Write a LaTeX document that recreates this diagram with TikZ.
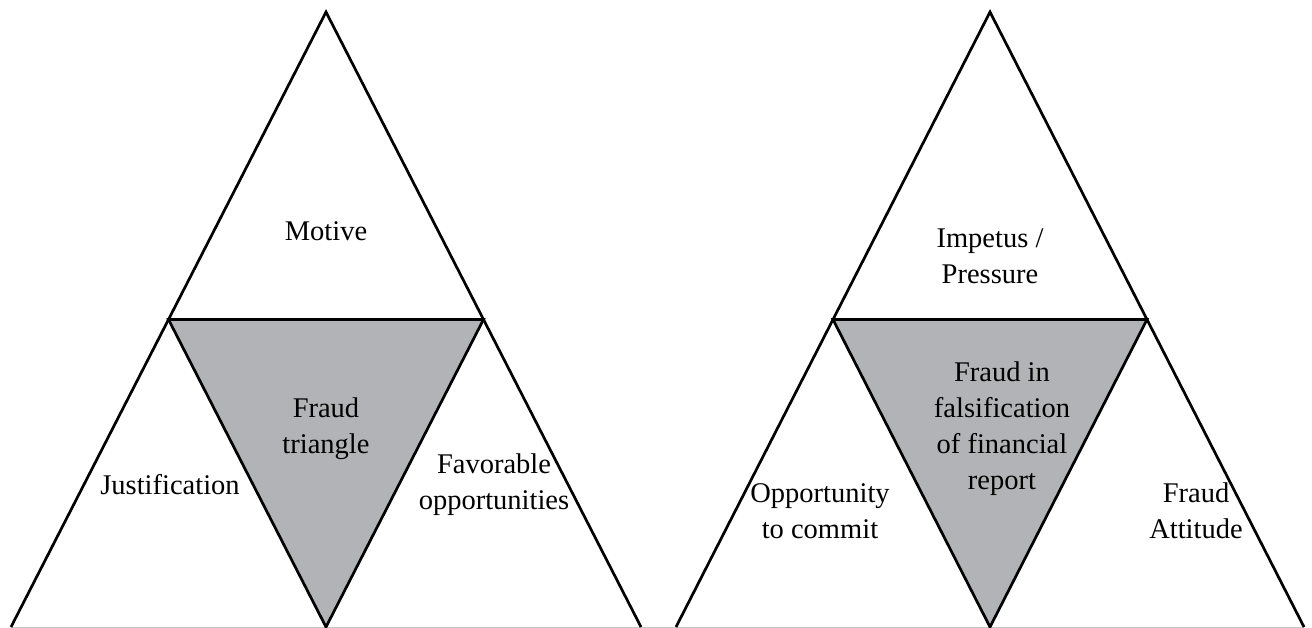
\documentclass[tikz,border=0pt]{standalone}
\usepackage{fontspec}
\setmainfont{Liberation Serif}
\usetikzlibrary{calc}
\definecolor{fraudgray}{HTML}{B1B3B6}
\tikzset{x=1pt, y=-1pt, % pixel units, origin top left
  every node/.style={align=center,
    font=\fontsize{28.5}{36}\selectfont},
  side/.style={      % outer edges of each triangle
    draw, line width=2.7pt, line join=miter},
  baseline/.style={  % thin grey floor line
    draw=gray!45, line width=1pt},
  core/.style={      % the shaded middle triangle
    fill=fraudgray, draw, line width=2.7pt, line join=miter}}

\begin{document}
\begin{tikzpicture}
  \useasboundingbox (0,0) rectangle (1312,628);

  % left triangle
  \coordinate (ltop) at (326,12);
  \coordinate (lleft) at (11,627);
  \coordinate (lright) at (641,627);
  \coordinate (lmidl) at ($(ltop)!0.5!(lleft)$);
  \coordinate (lmidr) at ($(ltop)!0.5!(lright)$);
  \coordinate (lbot) at ($(lleft)!0.5!(lright)$);

  % right triangle
  \coordinate (rtop) at (990,12);
  \coordinate (rleft) at (676,627);
  \coordinate (rright) at (1304,627);
  \coordinate (rmidl) at ($(rtop)!0.5!(rleft)$);
  \coordinate (rmidr) at ($(rtop)!0.5!(rright)$);
  \coordinate (rbot) at ($(rleft)!0.5!(rright)$);

  \path[baseline] (lleft) -- (rright);

  \path[core] (lmidl) -- (lmidr) -- (lbot) -- cycle;
  \path[core] (rmidl) -- (rmidr) -- (rbot) -- cycle;

  \path[side] (lleft) -- (ltop) -- (lright);
  \path[side] (rleft) -- (rtop) -- (rright);

  \node (motive) at (326,231) {Motive};
  \node (ftri) at (326,429) {Fraud\\triangle};
  \node (just) at (170,485) {Justification};
  \node (favor) at (494,485) {Favorable\\opportunities};

  \node (impetus) at (990,256) {Impetus /\\Pressure};
  \node (falsif) at (1002,429) {Fraud in\\falsification\\of financial\\report};
  \node (oppo) at (820,511) {Opportunity\\to commit};
  \node (attit) at (1196,511) {Fraud\\Attitude};
\end{tikzpicture}
\end{document}
